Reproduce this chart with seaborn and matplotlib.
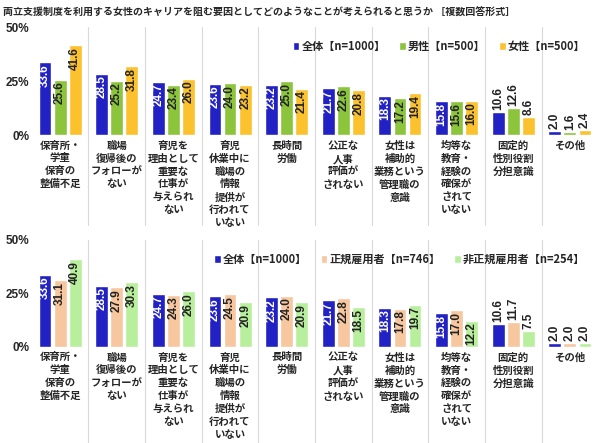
import pandas as pd
import matplotlib.pyplot as plt
import seaborn as sns

# data (%)
categories = [
    "保育所・\n学童\n保育の\n整備不足",
    "職場\n復帰後の\nフォローが\nない",
    "育児を\n理由として\n重要な\n仕事が\n与えられ\nない",
    "育児\n休業中に\n職場の\n情報\n提供が\n行われて\nいない",
    "長時間\n労働",
    "公正な\n人事\n評価が\nされない",
    "女性は\n補助的\n業務という\n管理職の\n意識",
    "均等な\n教育・\n経験の\n確保が\nされて\nいない",
    "固定的\n性別役割\n分担意識",
    "その他",
]
total = [33.6, 28.5, 24.7, 23.6, 23.2, 21.7, 18.3, 15.8, 10.6, 2.0]
male = [25.6, 25.2, 23.4, 24.0, 25.0, 22.6, 17.2, 15.6, 12.6, 1.6]
female = [41.6, 31.8, 26.0, 23.2, 21.4, 20.8, 19.4, 16.0, 8.6, 2.4]
regular = [31.1, 27.9, 24.3, 24.5, 24.0, 22.8, 17.8, 17.0, 11.7, 2.0]
nonregular = [40.9, 30.3, 26.0, 20.9, 20.9, 18.5, 19.7, 12.2, 7.5, 2.0]

top_groups = ["全体【n=1000】", "男性【n=500】", "女性【n=500】"]
bottom_groups = ["全体【n=1000】", "正規雇用者【n=746】", "非正規雇用者【n=254】"]

title = "両立支援制度を利用する女性のキャリアを阻む要因としてどのようなことが考えられると思うか ［複数回答形式］"

sns.set_style("white")
plt.rcParams['font.family'] = ['Noto Sans CJK JP', 'DejaVu Sans']


def draw_panel(ax, series, groups, colors, text_colors, inside_min, line_bottom):
    rows = []
    for g, vals in zip(groups, series):
        for c, v in zip(categories, vals):
            rows.append({"cat": c, "val": v, "grp": g})
    df = pd.DataFrame(rows)
    sns.barplot(data=df, x="cat", y="val", hue="grp", palette=colors,
                width=0.8, gap=0.15, saturation=1, errorbar=None, ax=ax)

    # value labels, rotated
    for cont, tcol in zip(ax.containers, text_colors):
        for bar in cont:
            h = bar.get_height()
            xc = bar.get_x() + bar.get_width() / 2
            if h >= inside_min:
                ax.text(xc, h - 0.8, f"{h:.1f}", rotation=90, ha="center", va="top",
                        color=tcol, fontsize=8.5, fontweight="bold", family="Liberation Sans")
            else:
                ax.text(xc, h + 0.8, f"{h:.1f}", rotation=90, ha="center", va="bottom",
                        color="#222222", fontsize=8.5, fontweight="bold", family="Liberation Sans")

    # separators between categories, running down through the labels
    for i in range(len(categories) - 1):
        ax.axvline(i + 0.5, ymin=line_bottom, ymax=1, color="#d9d9d9", lw=0.8, clip_on=False)

    ax.set_xlim(-0.5, len(categories) - 0.5)
    ax.set_ylim(0, 50)
    ax.set_yticks([0, 25, 50], ["0%", "25%", "50%"])
    ax.set_xlabel("")
    ax.set_ylabel("")
    ax.tick_params(axis="both", length=0)
    ax.tick_params(axis="y", pad=2)
    ax.tick_params(axis="x", pad=4)
    for lbl in ax.get_yticklabels():
        lbl.set_fontweight("bold")
        lbl.set_fontsize(8.5)
        lbl.set_family("Liberation Sans")
    ax.set_xticks(range(len(categories)))
    ax.set_xticklabels(categories, fontsize=7.5, fontweight="bold", linespacing=1.35, va="top")
    sns.despine(ax=ax, left=True, bottom=True)

    ax.legend(loc="upper right", bbox_to_anchor=(0.995, 0.97), ncol=3, frameon=False,
              handlelength=0.6, handleheight=0.7, handletextpad=0.2, columnspacing=1.2,
              prop={"size": 8, "weight": "bold"})


fig = plt.figure(figsize=(6, 4.43), dpi=100)
ax1 = fig.add_axes([0.053, 0.695, 0.944, 0.244])
ax2 = fig.add_axes([0.053, 0.217, 0.944, 0.2415])

draw_panel(ax1, [total, male, female], top_groups,
           ["#2121c4", "#8cc43c", "#fcc22e"], ["white", "#222222", "#222222"],
           13, -0.83)
draw_panel(ax2, [total, regular, nonregular], bottom_groups,
           ["#2121c4", "#f7c7a0", "#b8ef9c"], ["white", "#222222", "#222222"],
           12, -0.9)

fig.text(0.005, 0.972, title, fontsize=7.2, fontweight="bold", va="center", ha="left")

fig.savefig("out.png", dpi=100, facecolor="white")
